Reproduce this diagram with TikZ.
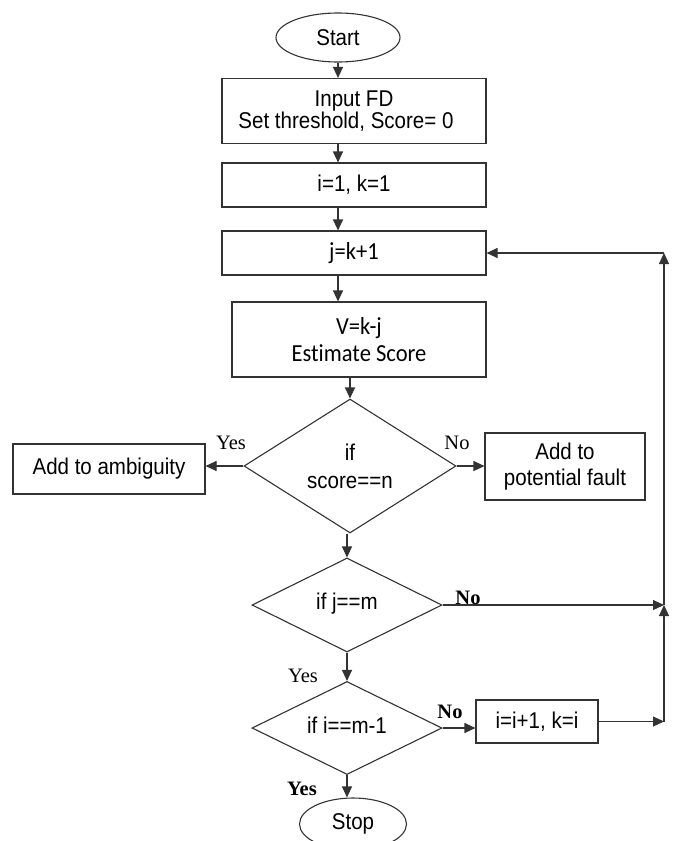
\documentclass[tikz,border=0pt]{standalone}
\usepackage{fontspec}
\setmainfont{Liberation Sans}[FakeStretch=0.9]
\newfontfamily\calfont{Carlito}[FakeStretch=0.92,Ligatures=NoCommon]
\newfontfamily\serfont{Liberation Serif}
\usetikzlibrary{shapes.geometric,arrows.meta}
\begin{document}
\begin{tikzpicture}[x=1pt,y=-1pt,
  line/.style={draw=black!80, line width=1.1pt},
  arr/.style={line, -{Triangle[length=11pt,width=10pt]}},
  box/.style={line, rectangle, inner sep=0pt, align=center, font=\fontsize{22.8}{26}\selectfont},
  calbox/.style={font=\calfont\fontsize{24.5}{27}\selectfont},
  term/.style={line, ellipse, inner sep=0pt, font=\fontsize{22.8}{26}\selectfont},
  dia/.style={line, diamond, inner sep=0pt, align=center, font=\fontsize{22.8}{28}\selectfont},
  lab/.style={inner sep=0pt, font=\serfont\fontsize{20.5}{22}\selectfont},
  labb/.style={inner sep=0pt, font=\serfont\bfseries\fontsize{20.5}{22}\selectfont}
]
\clip (0,0) rectangle (673,841);
\fill[white] (0,0) rectangle (673,841);

\node[term, minimum width=124pt, minimum height=49pt] (start) at (338,37.5) {Start};
\node[box, minimum width=264pt, minimum height=65pt, font=\fontsize{22.8}{22.5}\selectfont] (input) at (354,111) {Input FD\\Set threshold, Score= 0\hspace*{16pt}};
\node[box, minimum width=264pt, minimum height=44pt] (init) at (354,185) {i=1, k=1};
\node[box, calbox, minimum width=264pt, minimum height=44pt] (jk) at (354,253) {j=k+1};
\node[box, calbox, minimum width=254pt, minimum height=75pt] (vkj) at (359,339.5) {V=k-j\\Estimate Score};
\node[dia, minimum width=212pt, minimum height=134pt, aspect=1.58] (d1) at (350,466) {if\\score==n};
\node[box, minimum width=192pt, minimum height=50pt] (amb) at (109,469) {\raisebox{3pt}{Add to ambiguity}};
\node[box, minimum width=160pt, minimum height=67pt] (pot) at (565,466.5) {Add to\\potential fault};
\node[dia, minimum width=190pt, minimum height=94pt, aspect=2] (d2) at (347,605) {\raisebox{7pt}{if j==m}};
\node[dia, minimum width=190pt, minimum height=93pt, aspect=2] (d3) at (347,728) {\raisebox{6pt}{if i==m-1}};
\node[box, minimum width=122pt, minimum height=43pt] (inc) at (537,721.5) {i=i+1, k=i};
\node[term, minimum width=107pt, minimum height=52pt] (stop) at (353,824) {Stop};

\coordinate (rx) at (664,0);
\coordinate (r1) at (jk.east -| rx);
\coordinate (r2) at (d2.east -| rx);
\coordinate (r3) at (inc.east -| rx);

\draw[arr] (start.south) -- (start.south |- input.north);
\draw[arr] (start.south |- input.south) -- (start.south |- init.north);
\draw[arr] (start.south |- init.south) -- (start.south |- jk.north);
\draw[arr] (start.south |- jk.south) -- (start.south |- vkj.north);
\draw[arr] (d1.north |- vkj.south) -- (d1.north);
\draw[arr] (d1.west) -- (d1.west -| amb.east);
\draw[arr] (d1.east) -- (d1.east -| pot.west);
\draw[arr] (d2.north |- d1.south) -- (d2.north);
\draw[arr] (d2.south) -- (d3.north);
\draw[arr] (d3.south) -- (d3.south |- stop.north);
\draw[arr] (d3.east) -- (d3.east -| inc.west);
\draw[arr] (inc.east) -- (r3);
\draw[arr] (r3) -- (r2);
\draw[arr] (d2.east) -- (r2);
\draw[arr] (r2) -- (r1);
\draw[arr] (r1) -- (jk.east);

\node[lab] (y1) at (231,443) {Yes};
\node[lab] (n1) at (457,443) {No};
\node[labb] (n2) at (468,598) {No};
\node[lab] (y2) at (303,676) {Yes};
\node[labb] (n3) at (450,712) {No};
\node[labb] (y3) at (302,789) {Yes};
\end{tikzpicture}
\end{document}
